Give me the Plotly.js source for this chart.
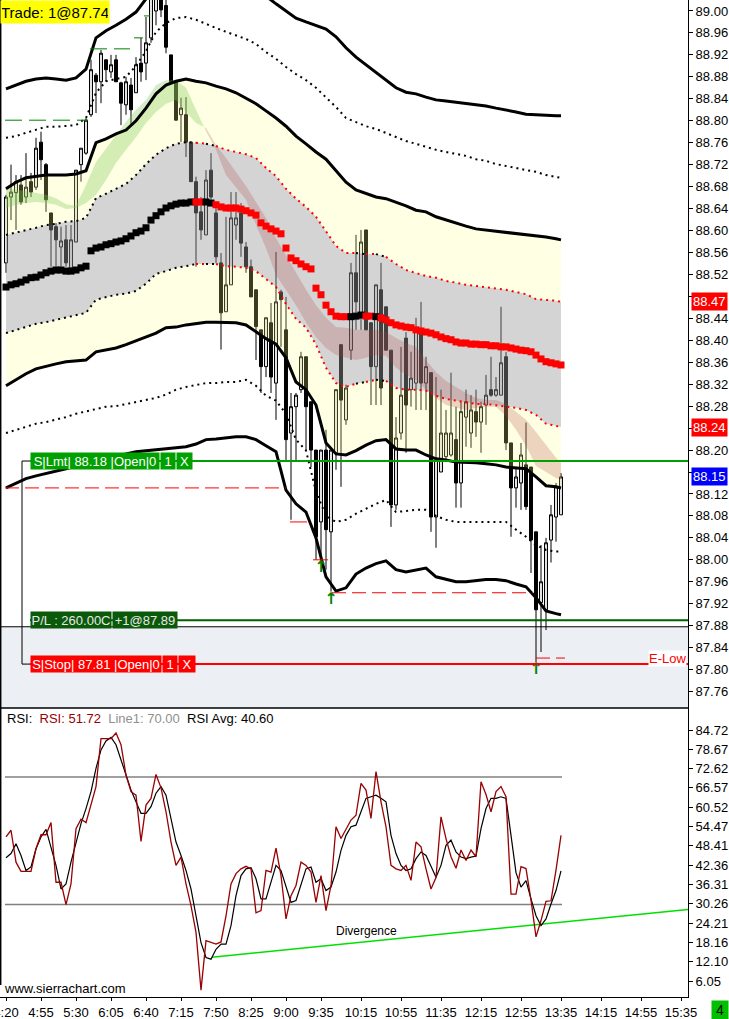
<!DOCTYPE html>
<html><head><meta charset="utf-8">
<script src="https://cdn.plot.ly/plotly-3.0.1.min.js"></script>
<style>html,body{margin:0;padding:0;background:#fff;overflow:hidden}#chart{width:729px;height:1019px}</style>
</head><body><div id="chart"></div>
<script>
// ---------- DATA ----------
const firstBarTime = "4:20";
const barStepMin = 5;
const opens = [88.541,88.661,88.669,88.683,88.661,88.689,88.679,88.761,88.720,88.632,
88.607,88.570,88.583,88.532,88.579,88.720,88.741,88.811,88.883,88.871,
88.911,88.889,88.911,88.869,88.829,88.865,88.851,88.905,88.905,88.951,
89.000,89.040,89.010,88.920,88.871,88.811,88.811,88.761,88.689,88.634,
88.592,88.710,88.632,88.541,88.452,88.501,88.610,88.632,88.570,88.534,
88.492,88.419,88.352,88.432,88.322,88.488,88.419,88.231,88.279,88.310,
88.370,88.288,88.200,88.069,88.200,88.051,88.195,88.392,88.255,88.382,
88.523,88.450,88.601,88.432,88.352,88.492,88.461,88.382,88.100,88.231,
88.404,88.310,88.322,88.419,88.322,88.341,88.078,88.160,88.188,88.191,
88.219,88.140,88.260,88.231,88.270,88.251,88.282,88.310,88.300,88.300,
88.370,88.213,88.131,88.140,88.173,88.169,88.051,87.922,87.909,88.036,
88.078,88.082];
const highs = [88.665,88.720,88.701,88.701,88.741,88.705,88.769,88.780,88.723,88.632,
88.614,88.607,88.610,88.610,88.710,88.750,88.805,88.911,88.887,88.929,
88.911,88.920,88.920,88.871,88.880,88.878,88.916,88.951,88.989,89.050,
89.060,89.060,89.030,88.920,88.871,88.842,88.843,88.761,88.698,88.661,
88.710,88.741,88.643,88.559,88.625,88.670,88.670,88.650,88.579,88.547,
88.492,88.419,88.441,88.468,88.561,88.492,88.479,88.304,88.304,88.379,
88.370,88.288,88.200,88.200,88.237,88.200,88.310,88.392,88.319,88.541,
88.592,88.601,88.601,88.432,88.501,88.541,88.461,88.382,88.260,88.388,
88.415,88.379,88.441,88.470,88.370,88.341,88.333,88.310,88.273,88.341,
88.279,88.288,88.310,88.300,88.310,88.288,88.337,88.370,88.333,88.461,
88.379,88.213,88.169,88.213,88.250,88.169,88.051,88.027,88.040,88.100,
88.140,88.158];
const lows = [88.523,88.619,88.601,88.647,88.650,88.661,88.674,88.692,88.634,88.534,
88.534,88.534,88.534,88.532,88.579,88.689,88.738,88.807,88.814,88.832,
88.871,88.878,88.871,88.792,88.811,88.792,88.851,88.871,88.874,88.942,
88.974,88.989,88.923,88.871,88.801,88.761,88.734,88.689,88.534,88.583,
88.592,88.656,88.541,88.383,88.452,88.501,88.583,88.552,88.523,88.479,
88.364,88.304,88.333,88.304,88.255,88.388,88.182,88.073,88.182,88.304,
88.200,88.169,88.000,88.005,87.982,87.942,88.164,88.133,88.246,88.364,
88.419,88.419,88.419,88.282,88.282,88.282,88.382,88.060,88.091,88.219,
88.195,88.279,88.273,88.273,88.273,88.051,88.022,88.160,88.182,88.188,
88.095,88.095,88.206,88.204,88.224,88.195,88.246,88.297,88.297,88.300,
88.200,88.042,88.095,88.091,88.091,87.976,87.814,87.832,87.872,87.995,
88.033,88.082];
const closes = [88.661,88.670,88.689,88.652,88.679,88.670,88.750,88.729,88.656,88.601,
88.583,88.581,88.541,88.583,88.710,88.750,88.801,88.893,88.871,88.923,
88.893,88.902,88.871,88.832,88.871,88.820,88.902,88.889,88.942,89.030,
89.030,89.002,88.934,88.871,88.801,88.823,88.761,88.689,88.632,88.601,
88.692,88.661,88.552,88.450,88.501,88.623,88.623,88.577,88.534,88.479,
88.425,88.352,88.441,88.333,88.470,88.474,88.219,88.279,88.300,88.370,
88.279,88.200,88.042,88.200,88.055,88.200,88.310,88.291,88.313,88.523,
88.470,88.579,88.419,88.352,88.501,88.313,88.382,88.100,88.222,88.300,
88.282,88.331,88.419,88.322,88.352,88.078,88.182,88.231,88.231,88.231,
88.140,88.270,88.288,88.273,88.251,88.279,88.300,88.300,88.310,88.359,
88.213,88.131,88.151,88.191,88.097,88.036,87.909,87.960,88.031,88.082,
88.133,88.151];
const vwap = [88.497,88.501,88.503,88.506,88.510,88.514,88.515,88.519,88.523,88.526,
88.528,88.528,88.526,88.526,88.528,88.532,88.535,88.563,88.568,88.570,
88.574,88.576,88.579,88.581,88.585,88.590,88.596,88.599,88.605,88.619,
88.627,88.634,88.641,88.645,88.648,88.650,88.650,88.652,88.652,88.652,
88.652,88.650,88.647,88.643,88.641,88.641,88.641,88.639,88.636,88.632,
88.628,88.614,88.608,88.603,88.599,88.594,88.568,88.550,88.545,88.539,
88.534,88.530,88.495,88.483,88.464,88.452,88.444,88.443,88.443,88.443,
88.444,88.446,88.444,88.444,88.443,88.441,88.437,88.432,88.428,88.426,
88.424,88.423,88.419,88.417,88.415,88.413,88.410,88.406,88.403,88.401,
88.397,88.395,88.395,88.393,88.393,88.392,88.392,88.390,88.390,88.388,
88.388,88.386,88.384,88.382,88.381,88.379,88.373,88.366,88.361,88.359,
88.357,88.355];
const rsi = [51.2,53.3,43.3,40.4,40.4,40.4,47.5,51.9,51.9,55.7,
37.0,37.0,30.0,36.5,53.8,56.8,55.7,61.2,67.0,82.0,
82.0,82.0,83.8,80.1,70.6,65.4,64.3,49.8,61.2,63.3,
70.8,66.6,59.1,49.6,42.3,44.9,36.5,29.7,21.3,3.2,
18.7,18.1,17.6,18.3,26.5,36.5,39.7,41.2,42.0,41.2,
27.4,28.1,40.7,40.2,47.7,39.1,25.5,32.8,36.0,43.3,
42.3,40.2,30.7,39.1,28.1,36.0,54.4,50.7,53.8,56.5,
58.0,68.0,65.9,57.0,71.7,62.2,54.4,42.3,41.2,40.7,
42.3,37.6,49.6,48.1,41.2,34.9,38.5,57.5,50.7,45.0,
41.4,47.1,43.8,47.1,45.0,68.5,64.5,59.1,65.4,67.0,
63.8,33.3,33.3,41.9,41.3,31.4,19.9,25.0,31.0,31.2,
40.8,51.72];
const rsiAvg = [44.7,46.0,49.1,45.4,40.7,41.8,47.5,51.2,53.6,47.5,
42.3,34.9,36.5,43.3,49.6,55.4,60.1,65.4,72.7,78.5,
81.3,82.4,80.1,75.4,70.1,65.9,62.2,58.6,58.6,60.7,
64.9,67.0,64.3,57.0,49.6,45.4,40.7,34.9,26.5,18.1,
13.4,12.9,16.0,17.6,17.6,23.4,32.8,39.1,41.2,41.6,
38.1,31.8,31.8,37.0,42.3,40.7,35.5,30.7,31.3,36.5,
41.2,41.8,37.0,38.1,34.4,35.5,40.2,47.0,51.7,54.4,
54.9,59.1,63.3,63.8,64.3,63.3,62.2,51.7,46.0,42.3,
40.7,41.2,44.4,46.5,45.4,42.0,38.6,42.3,48.6,50.2,
46.5,44.9,44.4,44.9,45.2,53.8,60.1,63.3,63.3,63.8,
63.3,51.7,40.0,35.5,37.5,31.8,26.5,23.4,25.5,30.2,
34.4,40.6];
// bands sampled every 10 minutes from 4:20, last point at 13:35
const bandFirstTime = "4:20", bandStepMin = 10, bandLastTime = "13:35";
const band3Upper = [88.858,88.865,88.872,88.876,88.878,88.876,88.874,88.878,88.894,88.951,
88.964,88.974,88.985,88.998,89.022,89.040,89.058,89.071,89.078,89.084,
89.084,89.084,89.078,89.069,89.060,89.046,89.027,89.013,89.000,88.987,
88.980,88.973,88.967,88.953,88.933,88.916,88.902,88.889,88.874,88.860,
88.852,88.849,88.843,88.838,88.836,88.834,88.832,88.829,88.827,88.823,
88.820,88.816,88.812,88.811,88.809,88.809,88.809];
const band2Upper = [88.769,88.772,88.778,88.783,88.789,88.789,88.790,88.792,88.805,88.851,
88.872,88.876,88.880,88.900,88.927,88.962,88.978,88.987,88.989,88.984,
88.976,88.969,88.962,88.956,88.949,88.940,88.925,88.913,88.898,88.885,
88.874,88.860,88.843,88.825,88.805,88.798,88.790,88.785,88.778,88.770,
88.763,88.758,88.752,88.747,88.743,88.739,88.736,88.730,88.727,88.721,
88.718,88.714,88.710,88.707,88.701,88.698,88.696];
const band1Upper = [88.676,88.688,88.696,88.699,88.701,88.701,88.701,88.703,88.709,88.760,
88.767,88.776,88.783,88.800,88.823,88.849,88.865,88.872,88.876,88.872,
88.869,88.863,88.858,88.851,88.841,88.831,88.818,88.805,88.790,88.772,
88.758,88.743,88.730,88.710,88.688,88.674,88.667,88.661,88.658,88.652,
88.645,88.637,88.634,88.625,88.619,88.614,88.608,88.603,88.601,88.599,
88.597,88.594,88.592,88.590,88.588,88.585,88.583];
const bandInnerUpper = [88.592,88.596,88.601,88.605,88.610,88.612,88.616,88.617,88.623,88.659,
88.667,88.676,88.685,88.701,88.721,88.738,88.750,88.758,88.761,88.760,
88.758,88.754,88.747,88.743,88.739,88.732,88.714,88.699,88.676,88.658,
88.643,88.625,88.599,88.572,88.559,88.559,88.557,88.557,88.552,88.539,
88.528,88.523,88.517,88.514,88.508,88.505,88.501,88.499,88.497,88.494,
88.492,88.488,88.484,88.475,88.474,88.472,88.470];
const bandInnerLower = [88.413,88.419,88.424,88.430,88.433,88.437,88.441,88.446,88.450,88.474,
88.479,88.483,88.485,88.490,88.503,88.521,88.526,88.532,88.535,88.539,
88.539,88.539,88.535,88.534,88.532,88.526,88.512,88.497,88.466,88.439,
88.423,88.392,88.350,88.322,88.315,88.321,88.324,88.328,88.326,88.313,
88.310,88.310,88.308,88.299,88.293,88.290,88.286,88.284,88.284,88.282,
88.279,88.277,88.273,88.264,88.248,88.244,88.242];
const band1Lower = [88.317,88.328,88.339,88.348,88.353,88.357,88.361,88.362,88.364,88.379,
88.382,88.386,88.392,88.399,88.406,88.413,88.423,88.424,88.428,88.430,
88.433,88.433,88.432,88.432,88.428,88.415,88.403,88.393,88.368,88.324,
88.310,88.282,88.213,88.193,88.191,88.199,88.209,88.217,88.219,88.202,
88.200,88.200,88.191,88.184,88.182,88.178,88.178,88.177,88.175,88.173,
88.169,88.168,88.166,88.151,88.135,88.133,88.131];
const band2Lower = [88.231,88.237,88.242,88.248,88.251,88.255,88.260,88.266,88.270,88.275,
88.279,88.280,88.284,88.288,88.291,88.295,88.301,88.310,88.315,88.319,
88.322,88.322,88.324,88.324,88.328,88.317,88.299,88.290,88.266,88.219,
88.199,88.124,88.080,88.069,88.073,88.084,88.093,88.102,88.109,88.087,
88.089,88.091,88.091,88.080,88.073,88.069,88.069,88.069,88.069,88.069,
88.069,88.055,88.042,88.027,88.018,88.015,88.015];
const band3Lower = [88.131,88.140,88.148,88.153,88.157,88.162,88.166,88.171,88.177,88.182,
88.186,88.189,88.193,88.197,88.199,88.200,88.202,88.204,88.206,88.211,
88.219,88.220,88.222,88.224,88.224,88.219,88.208,88.197,88.127,88.102,
88.087,88.040,87.969,87.943,87.949,87.974,87.985,87.993,87.998,87.982,
87.978,87.982,87.985,87.969,87.964,87.960,87.960,87.962,87.964,87.964,
87.962,87.956,87.951,87.931,87.907,87.902,87.900];
const emaFast = [88.678,88.674,88.672,88.668,88.665,88.659,88.648,88.645,88.683,88.725,
88.750,88.774,88.798,88.820,88.838,88.865,88.874,88.874,88.860,88.820,
88.781,88.747,88.701,88.678,88.656,88.610,88.568,88.519,88.492,88.464,
88.433,88.406,88.386,88.373,88.368,88.364,88.368,88.373,88.372,88.350,
88.337,88.328,88.310,88.295,88.282,88.277,88.273,88.277,88.279,88.279,
88.262,88.237,88.208,88.171,88.160,88.149,88.146];
const emaSlow = [88.641,88.647,88.650,88.652,88.650,88.647,88.639,88.641,88.650,88.665,
88.692,88.723,88.747,88.770,88.796,88.816,88.831,88.838,88.816,88.796,
88.787,88.756,88.732,88.707,88.681,88.652,88.623,88.586,88.555,88.525,
88.492,88.464,88.441,88.424,88.423,88.419,88.419,88.419,88.415,88.404,
88.395,88.388,88.364,88.342,88.326,88.315,88.304,88.295,88.291,88.291,
88.284,88.270,88.255,88.233,88.209,88.186,88.177];
// axis labels
const timeTickLabels = ["4:20","4:55","5:30","6:05","6:40","7:15","7:50","8:25","9:00","9:35","10:15","10:55","11:35","12:15","12:55","13:35","14:15","14:55","15:35"];
const priceTickFirst = 87.76, priceTickStep = 0.04, priceTickLast = 89.00;
const rsiTickValues = [6.05,12.10,18.16,24.21,30.26,36.31,42.36,48.41,54.47,60.52,66.57,72.62,78.67,84.72];
const rsiLevels = [70, 30];
// orders / markers
const limitPrice = 88.18, stopPrice = 87.81, pnlPrice = 87.89, tradeText = "Trade: 1@87.74", pnlText = "P/L : 260.00C", posText = "+1@87.89";
const shadeLevel = 87.878;
const redLevels = [88.131, 88.069, 88.000, 87.940, 87.821];
const redStarts = ["4:19","9:04","9:27","9:46","13:10"];
const redEnds = ["9:00","9:21","9:42","13:07","13:39"];
const redDashed = [true,false,false,true,true];
const greenLevels = [88.801, 88.931, 88.951, 88.991];
const greenStarts = ["4:19","5:44","6:28","6:38"];
const greenEnds = ["5:42","6:24","6:37","6:44"];
const arrowTimes = ["9:35","9:45","13:10"];
const arrowPrices = [88.000, 87.942, 87.814];
const divergenceTimes = ["7:46","15:42"];
const divergenceValues = [13.5, 28.5];

// ---------- BUILD ----------
const FONT = "Liberation Sans, Arial, sans-serif";
const toMin = s => { const p = s.split(':').map(Number); return p[0]*60 + p[1]; };
const t0 = toMin(firstBarTime);
const barTimes = opens.map((_, i) => t0 + barStepMin*i);
const bandTimes = band3Upper.map((_, i) => i < band3Upper.length - 1 ? toMin(bandFirstTime) + bandStepMin*i : toMin(bandLastTime));
const PW = 688, PH = 997;

const traces = [];
traces.push({type:'candlestick', x:barTimes, open:opens, high:highs, low:lows, close:closes, xaxis:'x', yaxis:'y',
  increasing:{line:{color:'#000', width:1}, fillcolor:'#e4e4e4'},
  decreasing:{line:{color:'#000', width:1}, fillcolor:'#000'},
  whiskerwidth:0, hoverinfo:'skip', showlegend:false});

const bline = (y, opts) => Object.assign({type:'scatter', mode:'lines', x:bandTimes, y:y, xaxis:'x', yaxis:'y', hoverinfo:'skip', showlegend:false}, opts);
// fills
traces.push(bline(band1Upper, {line:{width:0}}));
traces.push(bline(bandInnerUpper, {line:{width:0}, fill:'tonexty', fillcolor:'rgba(255,255,139,0.23)'}));
traces.push(bline(bandInnerLower, {line:{width:0}, fill:'tonexty', fillcolor:'rgba(152,152,152,0.42)'}));
traces.push(bline(band1Lower, {line:{width:0}, fill:'tonexty', fillcolor:'rgba(255,255,139,0.23)'}));
// ribbon
(function(){
  const sign = i => emaFast[i] >= emaSlow[i];
  let s = 0;
  for (let i = 1; i <= emaFast.length; i++) {
    if (i === emaFast.length || sign(i) !== sign(s)) {
      const e = Math.min(i, emaFast.length - 1);
      const col = sign(s) ? 'rgba(120,200,80,0.32)' : 'rgba(170,60,60,0.22)';
      traces.push({type:'scatter', mode:'lines', x:bandTimes.slice(s, e+1), y:emaSlow.slice(s, e+1), line:{width:0}, xaxis:'x', yaxis:'y', hoverinfo:'skip', showlegend:false});
      traces.push({type:'scatter', mode:'lines', x:bandTimes.slice(s, e+1), y:emaFast.slice(s, e+1), line:{width:0}, fill:'tonexty', fillcolor:col, xaxis:'x', yaxis:'y', hoverinfo:'skip', showlegend:false});
      s = i;
    }
  }
})();
// band lines
const DOT = '2px,4px';
const barColor = k => closes[k] > vwap[k] ? '#000000' : '#ff0000';
function segmented(vals) {
  const col = i => barColor(Math.min(2*i, closes.length - 1));
  let s = 0;
  for (let i = 1; i <= vals.length; i++) {
    if (i === vals.length || col(i) !== col(s)) {
      const e = Math.min(i, vals.length - 1);
      traces.push({type:'scatter', mode:'lines', x:bandTimes.slice(s, e+1), y:vals.slice(s, e+1), xaxis:'x', yaxis:'y',
        line:{color:col(s), width:2, dash:DOT}, hoverinfo:'skip', showlegend:false});
      s = i;
    }
  }
}
traces.push(bline(band3Upper, {line:{color:'#000', width:3}}));
traces.push(bline(band2Upper, {line:{color:'#000', width:2, dash:DOT}}));
traces.push(bline(band1Upper, {line:{color:'#000', width:3}}));
segmented(bandInnerUpper);
segmented(bandInnerLower);
traces.push(bline(band1Lower, {line:{color:'#000', width:3}}));
traces.push(bline(band2Lower, {line:{color:'#000', width:2, dash:DOT}}));
traces.push(bline(band3Lower, {line:{color:'#000', width:3}}));
// VWAP squares
traces.push({type:'scatter', mode:'markers', x:barTimes, y:vwap, xaxis:'x', yaxis:'y',
  marker:{symbol:'square', size:7, color:vwap.map((_, k) => barColor(k)), line:{width:0}}, hoverinfo:'skip', showlegend:false});
// arrows
traces.push({type:'scatter', mode:'text', x:arrowTimes.map(toMin), y:arrowPrices, text:arrowTimes.map(() => '<b>↑</b>'), textposition:'bottom center',
  textfont:{color:'#008000', size:16, family:'DejaVu Sans'}, xaxis:'x', yaxis:'y', hoverinfo:'skip', showlegend:false});
// RSI
traces.push({type:'scatter', mode:'lines', x:divergenceTimes.map(toMin), y:divergenceValues, xaxis:'x', yaxis:'y2', line:{color:'#00e000', width:1.5}, hoverinfo:'skip', showlegend:false});
traces.push({type:'scatter', mode:'lines', x:barTimes, y:rsiAvg, xaxis:'x', yaxis:'y2', line:{color:'#000', width:1.2}, hoverinfo:'skip', showlegend:false});
traces.push({type:'scatter', mode:'lines', x:barTimes, y:rsi, xaxis:'x', yaxis:'y2', line:{color:'#990000', width:1.3}, hoverinfo:'skip', showlegend:false});

// ---------- SHAPES ----------
const shapes = [];
shapes.push({type:'rect', xref:'paper', yref:'y', x0:0, x1:1, y0:87.73, y1:shadeLevel, fillcolor:'#eceff3', line:{width:0}, layer:'below'});
shapes.push({type:'line', xref:'paper', yref:'y', x0:0, x1:1, y0:shadeLevel, y1:shadeLevel, line:{color:'#000', width:1}});
rsiLevels.forEach(v => shapes.push({type:'line', xref:'x', yref:'y2', x0:barTimes[0]-1, x1:barTimes[barTimes.length-1]+1, y0:v, y1:v, line:{color:'#808080', width:1.5}, layer:'below'}));
redLevels.forEach((v, i) => shapes.push({type:'line', xref:'x', yref:'y', x0:toMin(redStarts[i]), x1:toMin(redEnds[i]), y0:v, y1:v, line:{color:'#ff0000', width:1, dash: redDashed[i] ? '14px,6px' : 'solid'}}));
greenLevels.forEach((v, i) => shapes.push({type:'line', xref:'x', yref:'y', x0:toMin(greenStarts[i]), x1:toMin(greenEnds[i]), y0:v, y1:v, line:{color:'#008000', width:1, dash:'17px,7px'}}));
const ox = 30/PW, bx = 22/PW;
shapes.push({type:'line', xref:'paper', yref:'y', x0:ox, x1:1, y0:limitPrice, y1:limitPrice, line:{color:'#00a000', width:2}});
shapes.push({type:'line', xref:'paper', yref:'y', x0:ox, x1:1, y0:pnlPrice, y1:pnlPrice, line:{color:'#006000', width:2}});
shapes.push({type:'line', xref:'paper', yref:'y', x0:ox, x1:1, y0:stopPrice, y1:stopPrice, line:{color:'#ff0000', width:2}});
shapes.push({type:'line', xref:'paper', yref:'y', x0:bx, x1:bx, y0:limitPrice, y1:stopPrice, line:{color:'#000', width:1}});
shapes.push({type:'line', xref:'paper', yref:'y', x0:bx, x1:ox, y0:limitPrice, y1:limitPrice, line:{color:'#000', width:1}});
shapes.push({type:'line', xref:'paper', yref:'y', x0:bx, x1:ox, y0:stopPrice, y1:stopPrice, line:{color:'#000', width:1}});
const sepY = 1 - 708/PH;
shapes.push({type:'line', xref:'paper', yref:'paper', x0:0, x1:1, y0:sepY, y1:sepY, line:{color:'#000', width:1.5}});
shapes.push({type:'line', xref:'paper', yref:'paper', x0:0.001, x1:0.001, y0:0.012, y1:1, line:{color:'#000', width:1.5}});

// ---------- ANNOTATIONS ----------
const ann = [];
function boxes(texts, widths, startPx, level, bg, fg) {
  let px = startPx;
  texts.forEach((t, j) => {
    ann.push({xref:'paper', yref:'y', x:px/PW, y:level, xanchor:'left', yanchor:'middle', text:t, showarrow:false,
      bgcolor:bg, font:{color:fg, size:13, family:FONT}, width:widths[j], height:16, borderpad:0, align:'center'});
    px += widths[j] + 2;
  });
}
boxes(["S|Lmt| " + limitPrice.toFixed(2) + " |Open|0", "1", "X"], [128, 14, 15], 30, limitPrice, '#00a000', '#ffffff');
boxes(["S|Stop| " + stopPrice.toFixed(2) + " |Open|0", "1", "X"], [130, 14, 16], 30, stopPrice, '#ff0000', '#ffffff');
boxes([pnlText, posText], [80, 64], 30, pnlPrice, '#0a5a0a', '#e8e8e8');
ann.push({xref:'paper', yref:'y', x:667/PW, y:redLevels[4], xanchor:'center', yanchor:'middle', text:'E-Low', showarrow:false, bgcolor:'#ffffff', font:{color:'#ff0000', size:13, family:FONT}, borderpad:0});
ann.push({xref:'paper', yref:'paper', x:0, y:1, xanchor:'left', yanchor:'top', text:tradeText, showarrow:false, bgcolor:'#ffff00', font:{color:'#000', size:15, family:FONT}, width:106, height:20, borderpad:1, align:'center'});
const tags = [[bandInnerUpper[bandInnerUpper.length-1], '#ff0000'], [bandInnerLower[bandInnerLower.length-1], '#ff0000'], [closes[closes.length-1], '#0000ff']];
tags.forEach(([v, bg]) => ann.push({xref:'paper', yref:'y', x:1, xshift:3, y:v, xanchor:'left', yanchor:'middle', text:v.toFixed(2), showarrow:false, bgcolor:bg, font:{color:'#fff', size:13, family:FONT}, borderpad:1}));
// price ticks (labels hidden where a value tag covers them)
const priceTicks = [];
for (let v = priceTickFirst; v <= priceTickLast + 1e-9; v += priceTickStep) priceTicks.push(Math.round(v*100)/100);
const priceTickText = priceTicks.map(v => tags.some(([tv]) => Math.abs(tv - v) < 0.015) ? '' : v.toFixed(2));
const lastRsi = rsi[rsi.length-1], lastAvg = rsiAvg[rsiAvg.length-1];
ann.push({xref:'paper', yref:'paper', x:5/PW, y:1-718/PH, xanchor:'left', yanchor:'middle', showarrow:false, font:{size:13, family:FONT, color:'#000'},
  text:'RSI:&nbsp;&nbsp;<span style="color:#990000">RSI: ' + lastRsi.toFixed(2) + '</span>&nbsp;&nbsp;<span style="color:#909090">Line1: ' + rsiLevels[0].toFixed(2) + '</span>&nbsp;&nbsp;RSI Avg: ' + lastAvg.toFixed(2)});
ann.push({xref:'x', yref:'y2', x:toMin("10:20"), y:21.7, xanchor:'center', yanchor:'middle', text:'Divergence', showarrow:false, font:{size:12, family:FONT, color:'#000'}});
ann.push({xref:'paper', yref:'paper', x:2/PW, y:1-988/PH, xanchor:'left', yanchor:'middle', text:'www.sierrachart.com', showarrow:false, font:{size:13, family:FONT, color:'#000'}});
ann.push({xref:'paper', yref:'paper', x:720/PW, y:1-1009.5/PH, xanchor:'center', yanchor:'middle', text:'4', showarrow:false, bgcolor:'#00c000', font:{size:14, family:FONT, color:'#000'}, width:16, height:18, borderpad:0});

const layout = {
  width:729, height:1019, margin:{l:0, r:41, t:0, b:22}, paper_bgcolor:'#fff', plot_bgcolor:'#fff', showlegend:false,
  font:{family:FONT, size:13, color:'#000'}, boxgap:0.15,
  xaxis:{range:[254, 942], anchor:'y2', showgrid:false, zeroline:false, showline:true, linecolor:'#000', linewidth:1,
    ticks:'outside', ticklen:3, tickcolor:'#000', tickvals:timeTickLabels.map(toMin), ticktext:timeTickLabels,
    tickfont:{size:13, family:FONT}, ticklabeloverflow:'allow', rangeslider:{visible:false}, fixedrange:true},
  yaxis:{domain:[sepY, 1], range:[87.73, 89.02], side:'right', anchor:'x', showgrid:false, zeroline:false, showline:true,
    linecolor:'#000', linewidth:1, ticks:'outside', ticklen:4, tickcolor:'#000', tickvals:priceTicks, ticktext:priceTickText, tickfont:{size:13, family:FONT}},
  yaxis2:{domain:[0, sepY], range:[1.04, 91.62], side:'right', anchor:'x', showgrid:false, zeroline:false, showline:true,
    linecolor:'#000', linewidth:1, ticks:'outside', ticklen:4, tickcolor:'#000', tickvals:rsiTickValues, ticktext:rsiTickValues.map(v => v.toFixed(2)), tickfont:{size:13, family:FONT}},
  shapes:shapes, annotations:ann
};
Plotly.newPlot('chart', traces, layout, {staticPlot:true, displayModeBar:false});
</script></body></html>
